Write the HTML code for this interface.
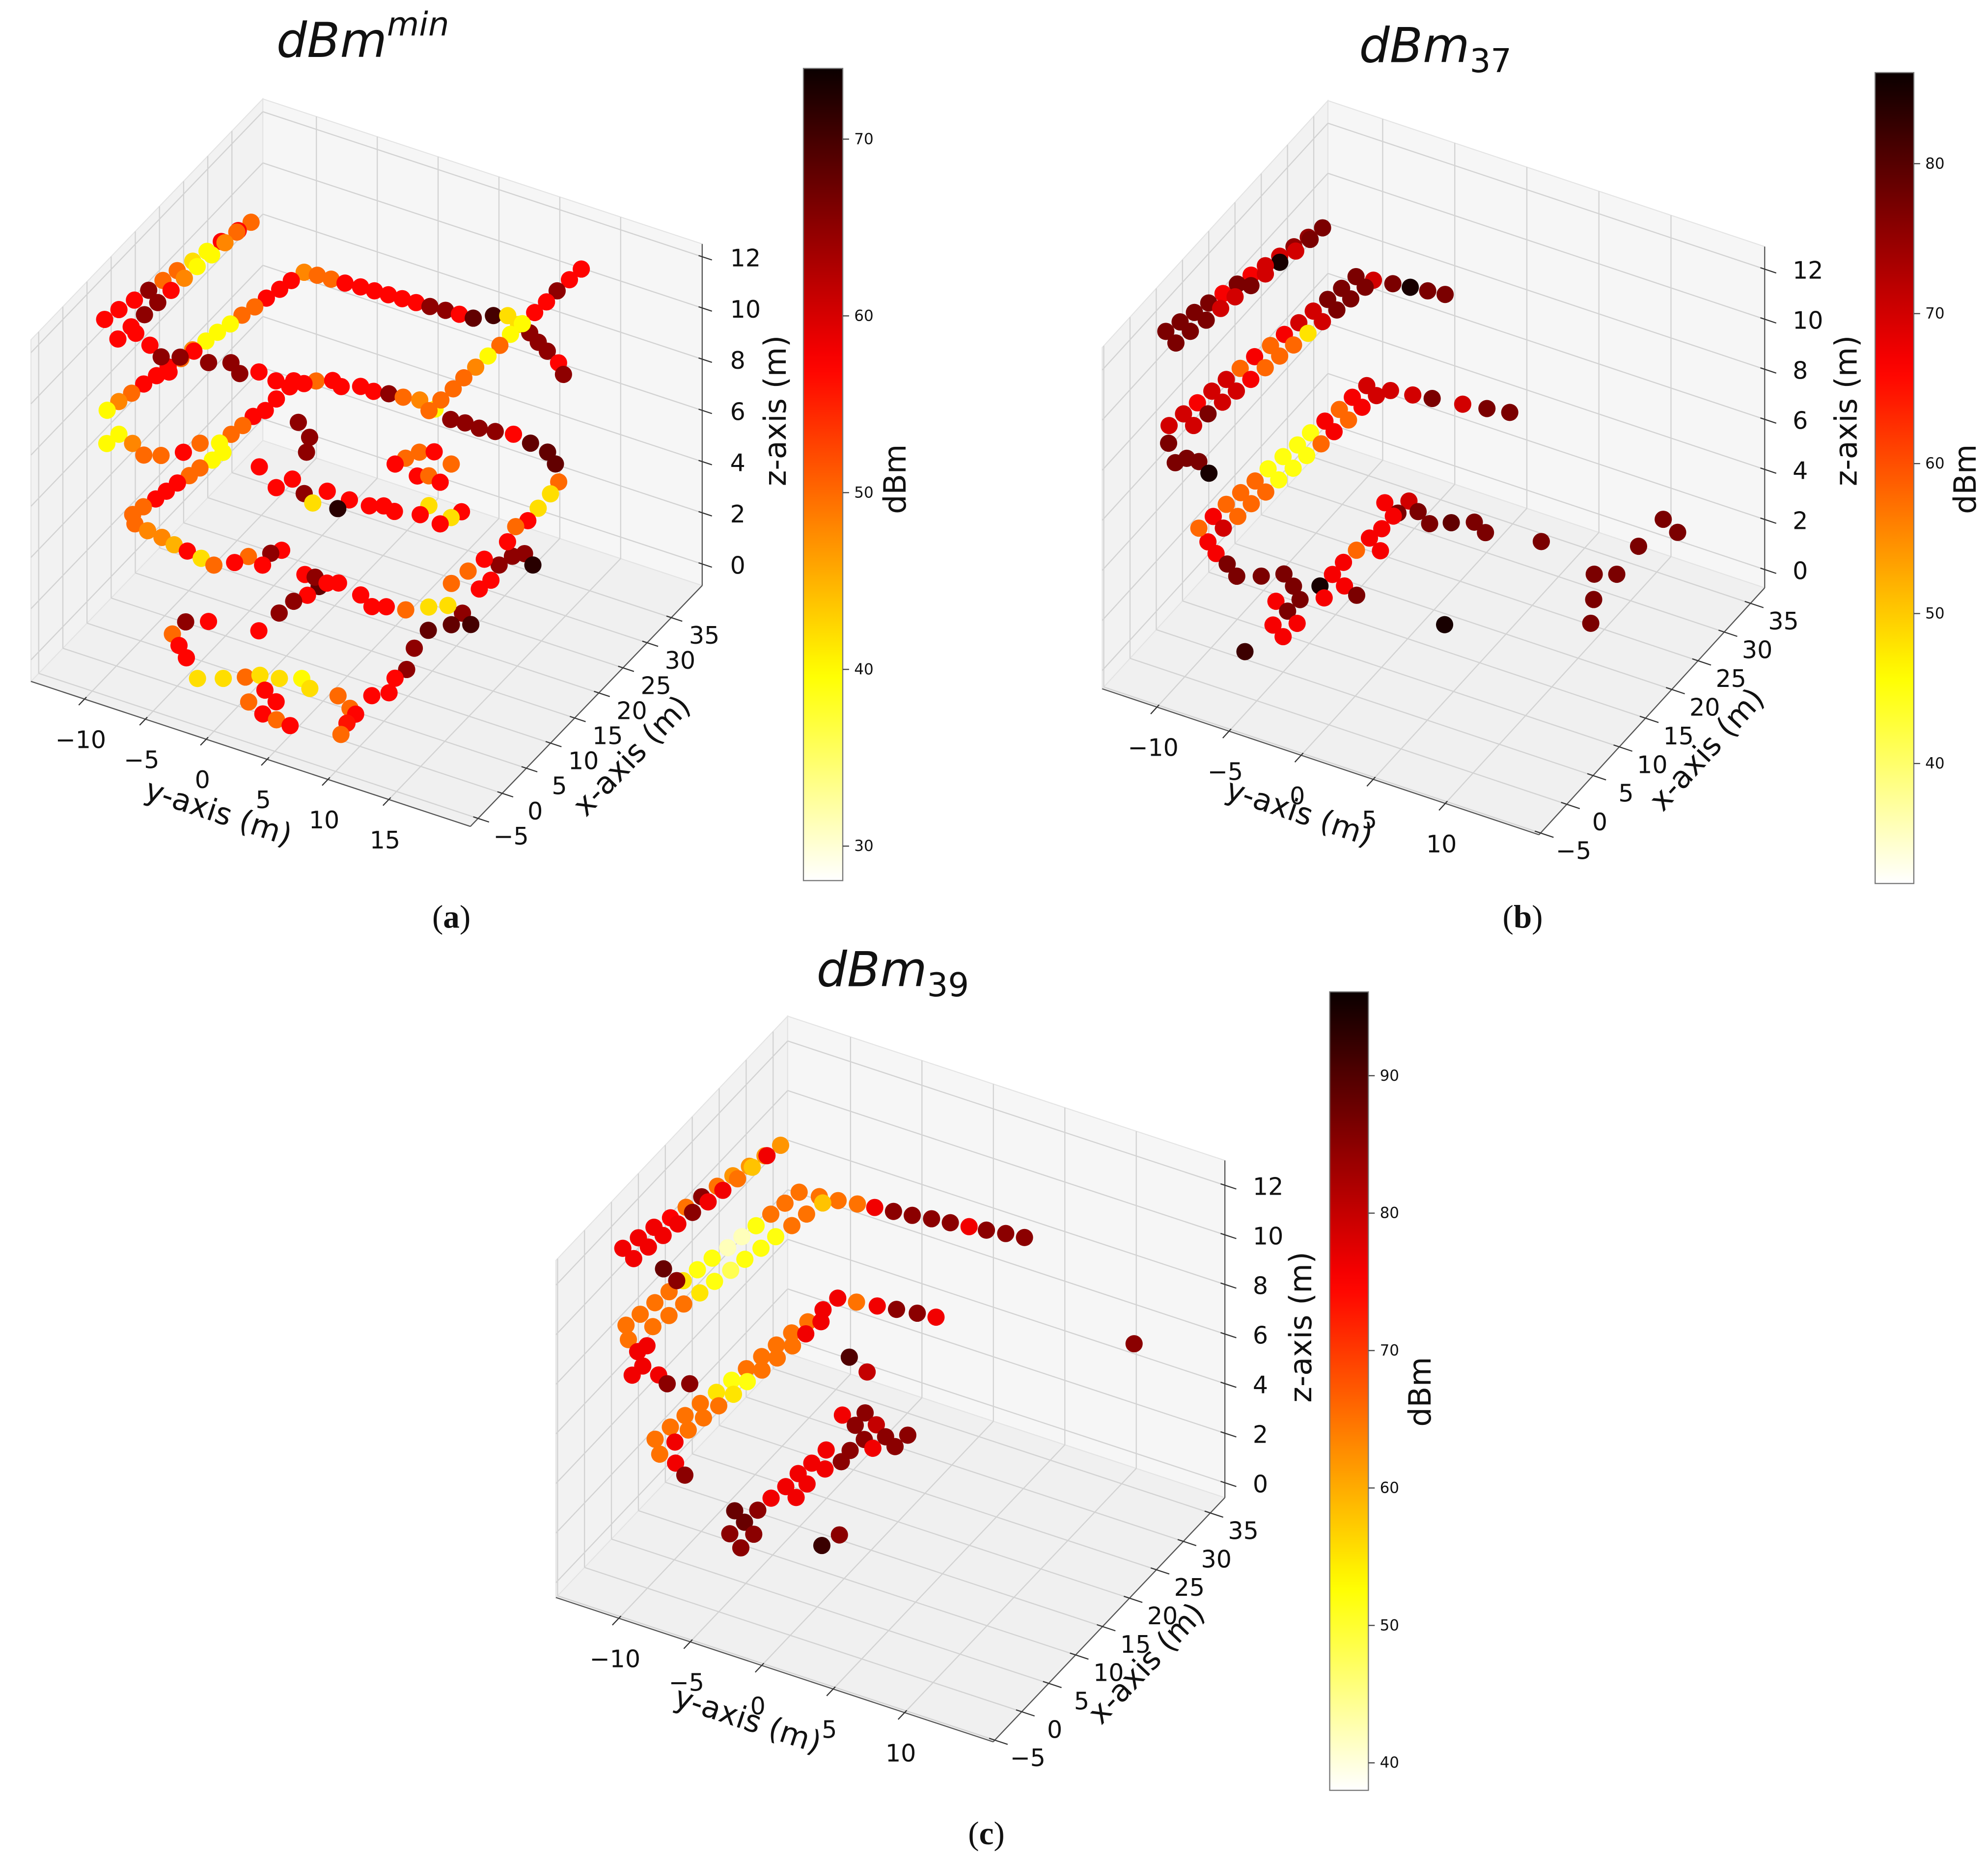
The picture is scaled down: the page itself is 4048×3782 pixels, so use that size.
<!DOCTYPE html>
<html>
<head>
<meta charset="utf-8">
<style>
html,body{margin:0;padding:0;background:#fff;}
svg{display:block;}
text{font-family:"DejaVu Sans","Liberation Sans",sans-serif;fill:#111;}
.cap{font-family:"Liberation Serif",serif;}
</style>
</head>
<body>
<svg id="fig" xmlns="http://www.w3.org/2000/svg" width="4048" height="3782" viewBox="0 0 1568 1465">
<defs id="defs"></defs>
<rect x="0" y="0" width="1568" height="1465" fill="#ffffff"/>

<g id="pa"></g>
<g id="pb"></g>
<g id="pc"></g>

<text x="218" y="45" font-size="38" font-style="italic">dBm<tspan font-size="26" dy="-17">min</tspan></text>
<text x="1072" y="49" font-size="38" font-style="italic">dBm<tspan font-size="26" font-style="normal" dy="8">37</tspan></text>
<text x="644" y="778" font-size="38" font-style="italic">dBm<tspan font-size="26" font-style="normal" dy="8">39</tspan></text>

<text x="172.5" y="640.7" font-size="24" text-anchor="middle" dominant-baseline="central" transform="rotate(18.3 172.5 640.7)">y-axis (m)</text>
<text x="498" y="596" font-size="24" text-anchor="middle" dominant-baseline="central" transform="rotate(-46 498 596)">x-axis (m)</text>
<text x="611.5" y="324" font-size="24" text-anchor="middle" dominant-baseline="central" transform="rotate(-90 611.5 324)">z-axis (m)</text>
<text x="706" y="378" font-size="24" text-anchor="middle" dominant-baseline="central" transform="rotate(-90 706 378)">dBm</text>

<text x="1025" y="640.7" font-size="24" text-anchor="middle" dominant-baseline="central" transform="rotate(18.5 1025 640.7)">y-axis (m)</text>
<text x="1346" y="591" font-size="24" text-anchor="middle" dominant-baseline="central" transform="rotate(-47.6 1346 591)">x-axis (m)</text>
<text x="1456" y="324" font-size="24" text-anchor="middle" dominant-baseline="central" transform="rotate(-90 1456 324)">z-axis (m)</text>
<text x="1550" y="378" font-size="24" text-anchor="middle" dominant-baseline="central" transform="rotate(-90 1550 378)">dBm</text>

<text x="590" y="1356.6" font-size="24" text-anchor="middle" dominant-baseline="central" transform="rotate(18.3 590 1356.6)">y-axis (m)</text>
<text x="904" y="1312" font-size="24" text-anchor="middle" dominant-baseline="central" transform="rotate(-46.5 904 1312)">x-axis (m)</text>
<text x="1026" y="1047" font-size="24" text-anchor="middle" dominant-baseline="central" transform="rotate(-90 1026 1047)">z-axis (m)</text>
<text x="1120" y="1098" font-size="24" text-anchor="middle" dominant-baseline="central" transform="rotate(-90 1120 1098)">dBm</text>

<text class="cap" x="356" y="732" font-size="26" text-anchor="middle">(<tspan font-weight="bold">a</tspan>)</text>
<text class="cap" x="1201" y="732" font-size="26" text-anchor="middle">(<tspan font-weight="bold">b</tspan>)</text>
<text class="cap" x="778" y="1455" font-size="26" text-anchor="middle">(<tspan font-weight="bold">c</tspan>)</text>
</svg>

<script>
// ---------- Panel (a) data: dBm^min ----------
const aX = [
2.1,4.3,6.5,8.7,10.9,13.1,15.3,17.5,19.7,21.9,24.1,
-0.2,2.3,4.8,7.3,9.8,12.3,14.7,17.2,19.7,22.2,
0.1,2.0,3.9,5.9,7.8,9.7,11.6,13.5,15.5,17.4,19.3,21.2,23.1,25.0,27.0,28.9,30.8,
31.0,31.1,31.2,31.4,31.5,31.6,31.7,31.8,31.9,32.1,32.2,32.3,
33.7,34.4,33.6,32.9,31.9,31.0,29.8,28.3,
4.5,6.7,9.0,11.2,13.4,15.7,17.9,20.1,22.3,24.6,26.8,29.0,31.3,33.5,
2.8,4.8,4.1,2.9,3.7,5.3,7.5,8.5,10.4,12.3,14.2,15.7,18.0,20.5,21.7,22.7,23.6,23.1,
24.1,24.0,24.4,24.6,25.0,24.4,23.6,23.8,23.7,24.0,24.5,24.0,23.5,22.1,
1.1,2.8,4.6,6.3,8.1,9.8,11.5,13.3,15.0,
-0.2,-0.6,-0.9,-1.4,-1.7,-2.1,-2.5,
2.8,4.4,3.8,6.0,7.0,4.5,4.6,4.3,18.5,16.2,18.3,16.7,15.7,18.2,16.1,18.0,18.1,18.8,18.5,19.3,21.1,18.9,20.4,21.8,
25.7,27.1,28.7,25.0,25.6,25.2,28.5,29.5,
23.3,21.6,19.2,
-1.1,0.2,1.5,2.5,3.0,4.1,3.0,3.3,2.0,-2.4,-0.4,1.4,5.0,6.3,8.8,10.7,14.3,17.7,19.7,20.7,22.0,26.5,28.4,31.1,33.1,34.1,32.8,
13.5,14.7,18.2,20.9,23.5,27.3,30.0,31.5,33.9,36.7,38.9,
0.5,-0.9,-2.4,3.0,4.2,5.3,9.0,11.5,13.1,15.0,16.5,15.8,14.6,15.3,15.8,
-2.1,-3.2,-3.4,-3.6,0.5,-0.7,
9.3,8.2,7.0,5.1,7.9,9.5,8.5,9.6,8.4,9.6,9.1,10.0
];
const aY = [
-11.8,-11.5,-11.1,-10.8,-10.5,-10.2,-9.8,-9.5,-9.2,-8.8,-8.5,
-9.8,-9.7,-9.6,-9.5,-9.4,-9.3,-9.2,-9.0,-8.9,-8.8,
-10.8,-10.6,-10.3,-10.1,-9.8,-9.6,-9.3,-9.1,-8.8,-8.6,-8.3,-8.1,-7.8,-7.6,-7.3,-7.1,-6.8,
-5.8,-4.7,-3.6,-2.4,-1.3,-0.2,0.9,2.0,3.1,4.3,5.4,6.5,
7.6,8.5,9.7,10.9,12.0,13.1,14.5,15.5,
13.9,14.0,14.1,14.1,14.2,14.3,14.4,14.4,14.5,14.6,14.7,14.7,14.8,14.9,
-11.9,-11.7,-10.3,-8.9,-7.8,-6.6,-6.1,-4.9,-4.7,-4.5,-4.4,-4.0,-4.0,-3.9,-3.2,-2.6,-1.6,-0.7,
0.5,1.6,2.7,3.8,5.0,6.5,8.1,9.2,10.4,11.6,12.9,14.5,16.1,17.3,
-9.1,-8.9,-8.6,-8.4,-8.2,-7.9,-7.7,-7.4,-7.2,
-8.4,-7.2,-5.9,-4.7,-3.5,-2.2,-1.0,
-1.4,-0.9,0.5,0.3,0.8,3.7,4.5,5.6,-5.6,-3.3,-2.8,-1.2,-0.1,0.1,1.8,2.0,3.6,4.5,5.5,7.3,7.3,9.1,9.4,9.7,
2.7,3.0,3.5,4.8,5.5,6.6,6.2,4.4,
-4.3,-2.7,-2.0,
-2.9,-1.3,0.0,0.8,2.2,3.6,4.7,6.9,8.4,9.4,9.1,9.1,9.0,9.9,9.4,9.6,8.8,8.6,9.7,10.9,9.7,9.3,9.5,9.1,9.4,10.0,11.2,
10.3,11.4,10.3,10.6,10.9,11.3,10.9,11.3,11.2,11.1,10.9,
-5.6,-4.5,-3.3,-5.5,-4.1,-0.4,-0.2,0.0,0.5,0.7,1.7,3.8,5.2,6.1,7.5,
1.7,3.3,4.5,5.7,2.0,3.4,
-12.1,-10.5,-9.1,-7.7,-7.9,-7.4,-5.8,-4.4,-3.2,-2.1,-0.5,0.6
];
const aZ = [
12,12,12,12,12,12,12,12,12,12,12,
12,12,12,12,12,12,12,12,12,12,
9,9,9,9,9,9,9,9,9,9,9,9,9,9,9,9,9,
9,9,9,9,9,9,9,9,9,9,9,9,
9,9,9,9,9,9,9,9,
12,12,12,12,12,12,12,12,12,12,12,12,12,12,
7,7,7,7,7,7,7,7,7,7,7,7,7,7,7,7,7,7,
7,7,7,7,7,7,7,7,7,7,7,7,7,7,
5,5,5,5,5,5,5,5,5,
5,5,5,5,5,5,5,
4,4,4,4,4,4,4,4,4,4,4,4,4,4,4,4,4,4,4,4,4,4,4,4,
4,4,4,4,4,4,4,4,
5,5,5,
0,0,0,0,0,0,0,0,0,0,0,0,0,0,0,0,0,0,0,0,0,0,0,0,0,0,0,
2,2,2,2,2,2,2,2,2,2,2,
1,1,1,1,1,1,1,1,1,1,1,1,1,1,1,
0,0,0,0,0,0,
10,10,10,10,10,10,10,10,10,10,10,10
];
const aV = [
57,57,57,65,50,50,42,40,57,50,50,
57,57,65,65,57,48,40,40,48,57,
40,48,50,57,57,57,50,48,40,40,40,50,50,57,57,57,48,
50,50,57,57,57,57,57,57,65,65,57,68,
70,42,42,65,65,65,57,65,
50,50,50,50,48,40,50,40,40,57,57,65,57,57,
40,40,48,50,50,57,50,40,50,50,57,57,57,57,57,50,57,57,
57,57,65,50,48,40,65,65,65,65,57,68,68,68,
50,50,57,57,57,50,50,40,40,
50,48,48,45,57,42,50,
57,50,57,65,57,57,65,57,57,57,57,65,42,57,72,57,57,57,57,57,42,57,42,57,
57,50,50,57,50,57,50,57,
65,65,65,
42,42,50,42,42,40,42,50,50,50,56,57,57,57,57,65,65,68,68,70,65,57,57,65,65,65,72,
42,42,50,50,57,57,50,57,42,42,50,
50,57,57,65,57,57,65,65,57,68,57,57,57,57,50,
50,57,50,57,57,57,
57,57,65,57,65,57,65,65,65,57,57,57
];
const aXTicks = [-5,0,5,10,15,20,25,30,35];
const aYTicks = [-10,-5,0,5,10,15];
const aZTicks = [0,2,4,6,8,10,12];
const aCbTicks = [30,40,50,60,70];
const aRange = [28.05,74.0];

// ---------- Panel (b) data: dBm_37 ----------
const bX = [
2.7,4.6,6.5,8.4,10.3,12.2,14.0,15.9,17.8,19.7,21.6,23.5,
1.6,3.8,6.0,8.2,10.4,12.6,14.8,17.0,19.2,21.4,
0.3,2.5,4.6,6.8,9.0,11.1,13.3,15.5,17.6,19.8,22.0,24.2,26.3,28.5,
28.8,29.2,29.5,29.8,30.1,
1.4,3.6,5.8,7.9,10.1,12.3,14.5,16.6,18.8,21.0,23.2,25.3,27.5,
1.3,3.5,5.7,7.9,10.1,12.3,14.6,16.8,19.0,21.2,23.4,25.6,27.8,
28.2,28.6,29.0,29.6,30.1,30.6,
2.4,4.6,6.9,9.1,11.3,13.5,15.8,18.0,20.2,22.4,24.7,26.9,
4.6,2.3,3.4,3.5,2.4,
9.9,8.7,7.8,6.6,7.7,9.0,7.8,9.0,
11.1,13.2,15.4,17.6,19.4,21.6,23.0,24.3,22.2,23.3,22.2,23.3,24.4,23.5,24.8,16.4,10.1,9.4,7.6,
28.5,33.2,32.1,22.8,23.8,19.4,16.1,9.4,-3.1,5.0,4.2,6.3,1.7,0.6,3.0
];
const bY = [
-12.3,-12.0,-11.7,-11.4,-11.1,-10.8,-10.5,-10.2,-9.9,-9.6,-9.3,-9.0,
-11.2,-11.0,-10.7,-10.5,-10.3,-10.0,-9.8,-9.6,-9.3,-9.1,
-11.2,-11.0,-10.8,-10.6,-10.4,-10.2,-10.0,-9.7,-9.5,-9.3,-9.1,-8.9,-8.7,-8.5,
-7.4,-6.2,-5.1,-4.0,-2.9,
-9.9,-9.7,-9.5,-9.3,-9.1,-8.9,-8.7,-8.5,-8.3,-8.1,-7.9,-7.7,-7.5,
-9.5,-9.3,-9.2,-9.0,-8.8,-8.7,-8.5,-8.3,-8.2,-8.0,-7.8,-7.7,-7.5,
-6.0,-4.6,-3.4,-1.5,0.0,1.4,
-8.2,-8.0,-7.9,-7.7,-7.6,-7.4,-7.3,-7.1,-7.0,-6.8,-6.7,-6.5,
-12.8,-11.5,-11.1,-10.3,-9.2,
-12.0,-11.0,-9.9,-8.8,-7.5,-6.4,-5.3,-3.9,
-3.8,-3.8,-3.7,-3.6,-3.4,-3.4,-4.5,-3.3,-3.3,-2.3,-1.1,0.0,1.2,2.3,5.7,-2.4,-2.6,-1.5,-3.1,
11.1,11.1,12.5,10.1,11.3,11.3,12.3,4.6,-4.7,-5.5,-4.4,-4.3,-4.5,-3.4,-3.3
];
const bZ = [
12,12,12,12,12,12,12,12,12,12,12,12,
12,12,12,12,12,12,12,12,12,12,
9,9,9,9,9,9,9,9,9,9,9,9,9,9,
9,9,9,9,9,
9,9,9,9,9,9,9,9,9,9,9,9,9,
5,5,5,5,5,5,5,5,5,5,5,5,5,
5,5,5,5,5,5,
5,5,5,5,5,5,5,5,5,5,5,5,
7,7,7,7,7,
2,2,2,2,2,2,2,2,
2,2,2,2,2,2,2,2,2,2,2,2,2,2,2,2,2,2,2,
2,2,2,2,2,2,2,2,2,2,2,2,2,2,2
];
const bV = [
77,77,77,77,67,77,67,70,70,75,75,77,
77,77,77,70,70,77,70,85,70,77,
70,70,67,70,70,58,67,58,67,70,70,77,77,77,
70,77,85,77,77,
70,77,70,70,67,58,58,58,48,70,77,77,77,
58,67,58,58,58,45,45,45,45,67,58,67,70,
70,70,77,70,77,77,
70,58,58,58,45,45,45,58,67,58,67,70,
77,77,77,77,85,
67,67,77,77,77,77,77,85,
67,67,58,67,67,67,67,70,77,77,77,79,77,77,77,67,67,77,67,
77,77,77,77,77,77,77,85,82,67,77,77,67,67,67
];
const bXTicks = [-5,0,5,10,15,20,25,30,35];
const bYTicks = [-10,-5,0,5,10];
const bZTicks = [0,2,4,6,8,10,12];
const bCbTicks = [40,50,60,70,80];
const bRange = [32.0,86.07];

// ---------- Panel (c) data: dBm_39 ----------
const cX = [
2.6,4.7,6.8,8.8,10.9,13.0,15.1,17.2,19.2,21.3,23.4,
1.7,3.9,6.1,8.3,10.5,12.6,14.8,17.0,19.2,21.4,
2.4,4.5,6.7,8.8,10.9,13.0,15.2,17.3,19.4,21.5,23.7,25.8,27.9,
28.2,28.5,28.9,29.2,29.5,29.8,30.2,30.5,30.8,31.1,31.5,31.8,
3.4,5.6,7.8,10.0,12.2,14.4,16.5,18.7,20.9,23.1,25.3,27.5,
3.9,2.7,3.9,-0.7,1.0,0.5,-0.3,0.7,
8.3,7.3,
1.7,4.0,6.2,8.5,10.7,13.0,15.2,17.5,19.7,22.0,24.2,26.5,28.7,
29.0,29.4,29.8,30.2,30.5,
-0.1,2.2,4.4,6.7,9.0,11.2,13.5,15.7,18.0,20.3,22.5,24.8,
-0.6,-1.8,21.3,20.1,35.7,
5.6,6.7,8.9,11.1,13.4,15.4,17.8,16.9,18.8,20.9,20.1,22.2,21.3,23.4,23.2,22.4,24.5,23.4,15.2,12.4,10.1,4.5,3.3,2.3,0.9,4.8,7.0
];
const cY = [
-12.7,-12.4,-12.1,-11.7,-11.4,-11.1,-10.8,-10.5,-10.1,-9.8,-9.5,
-11.6,-11.4,-11.2,-11.0,-10.8,-10.5,-10.3,-10.1,-9.9,-9.7,
-12.4,-12.2,-12.0,-11.8,-11.6,-11.4,-11.2,-10.9,-10.7,-10.5,-10.3,-10.1,-9.9,
-8.6,-7.4,-6.2,-5.1,-3.9,-2.7,-1.5,-0.3,0.9,2.0,3.2,4.4,
-10.9,-10.6,-10.4,-10.1,-9.9,-9.6,-9.4,-9.1,-8.9,-8.6,-8.4,-8.1,
-12.8,-11.7,-11.5,-10.8,-10.7,-9.4,-8.5,-7.3,
-12.0,-10.7,
-10.1,-9.9,-9.7,-9.5,-9.2,-9.0,-8.8,-8.6,-8.4,-8.2,-7.9,-7.7,-7.5,
-6.3,-5.0,-3.8,-2.5,-1.3,
-9.1,-8.9,-8.8,-8.6,-8.4,-8.2,-8.1,-7.9,-7.7,-7.5,-7.4,-7.2,
-7.8,-6.7,-3.9,-2.2,10.6,
-6.0,-4.8,-4.7,-4.5,-4.5,-4.3,-4.2,-2.8,-2.9,-2.7,-1.8,-1.7,-0.7,-0.6,-5.1,-3.9,-4.0,-2.8,-3.3,-3.5,-3.4,-4.9,-3.8,-5.1,-3.8,0.4,0.8
];
const cZ = [
12,12,12,12,12,12,12,12,12,12,12,
12,12,12,12,12,12,12,12,12,12,
9,9,9,9,9,9,9,9,9,9,9,9,9,
9,9,9,9,9,9,9,9,9,9,9,9,
9,9,9,9,9,9,9,9,9,9,9,9,
8,8,8,8,8,8,8,8,
10,10,
5,5,5,5,5,5,5,5,5,5,5,5,5,
5,5,5,5,5,
5,5,5,5,5,5,5,5,5,5,5,5,
5,5,5,5,5,
2,2,2,2,2,2,2,2,2,2,2,2,2,2,2,2,2,2,2,2,2,2,2,2,2,2,2
];
const cV = [
76,76,76,75,65,85,65,62,62,62,62,
76,76,76,76,85,76,76,65,58,76,
65,65,65,65,55,52,52,42,42,52,65,65,65,
65,65,65,76,85,85,85,85,76,85,85,85,
65,65,65,55,52,48,52,52,52,65,65,58,
65,76,76,76,76,76,85,85,
88,85,
65,65,65,65,55,52,65,65,65,65,65,76,76,
65,76,85,85,76,
65,76,65,65,65,55,52,65,65,65,76,76,
76,85,90,80,85,
88,85,76,76,76,76,76,85,85,85,76,85,85,85,76,85,85,80,76,76,76,88,85,85,85,92,85
];
const cXTicks = [-5,0,5,10,15,20,25,30,35];
const cYTicks = [-10,-5,0,5,10];
const cZTicks = [0,2,4,6,8,10,12];
const cCbTicks = [40,50,60,70,80,90];
const cRange = [38.0,96.1];

// ---------- Layout (projection + colorbar placement) ----------
const NS = 'http://www.w3.org/2000/svg';
const cfgA = {id:'pa', key:'a', O:[187.8,540.1], ex:[3.81,-3.96], ey:[9.6,3.17], ez:[0,-20.2],
  X:[-6.6,41.4], Y:[-14.4,21.7], Z:[-0.84,12.5], cb:{x:633.7,y0:54,y1:694.7,w:31}};
const cfgB = {id:'pb', key:'b', O:[1048.2,557.4], ex:[4.14,-4.53], ey:[11.37,3.80], ez:[0,-19.75],
  X:[-5.3,37.7], Y:[-13.8,16.5], Z:[-0.73,12.9], cb:{x:1479,y0:57.3,y1:697,w:30.5}};
const cfgC = {id:'pc', key:'c', O:[623.3,1278.4], ex:[4.25,-4.48], ey:[11.27,3.72], ez:[0,-19.56],
  X:[-5.3,37.7], Y:[-14.4,16.2], Z:[-0.6,13.0], cb:{x:1048.8,y0:782.5,y1:1412.4,w:30.5}};

function clamp(v){return Math.max(0,Math.min(1,v));}
function hotR(t){
  const s = 1 - clamp(t);
  const r = clamp(0.0416 + (1-0.0416)*s/0.365);
  const g = clamp((s-0.365)/0.381);
  const b = clamp((s-0.746)/0.254);
  return 'rgb(' + Math.round(r*255) + ',' + Math.round(g*255) + ',' + Math.round(b*255) + ')';
}
function P(c,x,y,z){
  return [c.O[0]+x*c.ex[0]+y*c.ey[0]+z*c.ez[0], c.O[1]+x*c.ex[1]+y*c.ey[1]+z*c.ez[1]];
}
function mk(tag,parent){const e=document.createElementNS(NS,tag); parent.appendChild(e); return e;}
function seg(parent,p,q,stroke,w){
  const e=mk('line',parent);
  e.setAttribute('x1',p[0].toFixed(2)); e.setAttribute('y1',p[1].toFixed(2));
  e.setAttribute('x2',q[0].toFixed(2)); e.setAttribute('y2',q[1].toFixed(2));
  e.setAttribute('stroke',stroke); e.setAttribute('stroke-width',w);
  return e;
}
function poly(parent,c,pts,fill){
  const e=mk('polygon',parent);
  e.setAttribute('points',pts.map(p=>P(c,p[0],p[1],p[2]).map(v=>v.toFixed(2)).join(',')).join(' '));
  e.setAttribute('fill',fill); e.setAttribute('stroke','#e3e3e3'); e.setAttribute('stroke-width','0.8');
  return e;
}
function txt(parent,x,y,s,size,anchor){
  const e=mk('text',parent);
  e.setAttribute('x',x.toFixed(2)); e.setAttribute('y',y.toFixed(2));
  e.setAttribute('font-size',size); e.setAttribute('text-anchor',anchor);
  e.setAttribute('dominant-baseline','central');
  e.textContent=s;
  return e;
}

function drawPlot(c,XS,YS,ZS,VS,xt,yt,zt,cbt,rng){
  const root=document.getElementById(c.id);
  const [X0,X1]=c.X, [Y0,Y1]=c.Y, [Z0,Z1]=c.Z;
  // panes
  const pf=poly(root,c,[[X0,Y0,Z0],[X1,Y0,Z0],[X1,Y1,Z0],[X0,Y1,Z0]],'#f0f0f0');
  
  
  const pl=poly(root,c,[[X0,Y0,Z0],[X1,Y0,Z0],[X1,Y0,Z1],[X0,Y0,Z1]],'#f2f2f2');
  
  
  const pr=poly(root,c,[[X1,Y0,Z0],[X1,Y1,Z0],[X1,Y1,Z1],[X1,Y0,Z1]],'#f6f6f6');
  
  
  // grid
  const grid=mk('g',root);
  
  
  const gc='#d2d2d2', gw='0.9';
  xt.forEach(v=>{ if(v<X0||v>X1) return;
    const g1=seg(grid,P(c,v,Y0,Z0),P(c,v,Y1,Z0),gc,gw);
    
    const g2=seg(grid,P(c,v,Y0,Z0),P(c,v,Y0,Z1),gc,gw);
    
  });
  yt.forEach(v=>{ if(v<Y0||v>Y1) return;
    const g1=seg(grid,P(c,X0,v,Z0),P(c,X1,v,Z0),gc,gw);
    
    const g2=seg(grid,P(c,X1,v,Z0),P(c,X1,v,Z1),gc,gw);
    
  });
  zt.forEach(v=>{ if(v<Z0||v>Z1) return;
    const g1=seg(grid,P(c,X0,Y0,v),P(c,X1,Y0,v),gc,gw);
    
    const g2=seg(grid,P(c,X1,Y0,v),P(c,X1,Y1,v),gc,gw);
    
  });
  // axes
  const ax=mk('g',root);
  
  
  const xa=seg(ax,P(c,X0,Y1,Z0),P(c,X1,Y1,Z0),'#555','0.9');
  
  const ya=seg(ax,P(c,X0,Y0,Z0),P(c,X0,Y1,Z0),'#555','0.9');
  
  const za=seg(ax,P(c,X1,Y1,Z0),P(c,X1,Y1,Z1),'#555','0.9');
  
  xt.forEach(v=>{
    const tk=seg(ax,P(c,v,Y1-0.4,Z0),P(c,v,Y1+0.9,Z0),'#333','0.9');
    
    const p=P(c,v,Y1,Z0);
    const t=txt(ax,p[0]+26,p[1]+14,String(v).replace('-','\u2212'),19,'middle');
    
  });
  yt.forEach(v=>{
    const tk=seg(ax,P(c,X0+0.4,v,Z0),P(c,X0-1.2,v,Z0),'#333','0.9');
    
    const p=P(c,X0,v,Z0);
    const t=txt(ax,p[0]-3,p[1]+32,String(v).replace('-','\u2212'),19,'middle');
    
  });
  zt.forEach(v=>{
    const tk=seg(ax,P(c,X1,Y1-0.3,v),P(c,X1,Y1+0.8,v),'#333','0.9');
    
    const p=P(c,X1,Y1,v);
    const t=txt(ax,p[0]+22,p[1]+1,String(v),19,'start');
    
  });
  // points, drawn far-to-near
  const pts=mk('g',root);
  
  
  const idx=XS.map((_,i)=>i);
  const depth=i=>(XS[i]-X0)/(X1-X0)-(YS[i]-Y0)/(Y1-Y0)-0.5*(ZS[i]-Z0)/(Z1-Z0);
  idx.sort((i,j)=>depth(j)-depth(i));
  idx.forEach(i=>{
    const p=P(c,XS[i],YS[i],ZS[i]);
    const d=mk('circle',pts);
    d.setAttribute('cx',p[0].toFixed(2)); d.setAttribute('cy',p[1].toFixed(2));
    d.setAttribute('r','6.8');
    d.setAttribute('fill',hotR((VS[i]-rng[0])/(rng[1]-rng[0])));
    
    
  });
  // colorbar
  const defs=document.getElementById('defs');
  const lg=mk('linearGradient',defs);
  lg.setAttribute('id','grad-'+c.key);
  lg.setAttribute('x1','0'); lg.setAttribute('y1','1'); lg.setAttribute('x2','0'); lg.setAttribute('y2','0');
  for(let k=0;k<=40;k++){
    const st=mk('stop',lg);
    st.setAttribute('offset',(k/40).toFixed(3));
    st.setAttribute('stop-color',hotR(k/40));
  }
  const cbg=mk('g',root);
  
  
  const cb=c.cb;
  const r=mk('rect',cbg);
  r.setAttribute('x',cb.x); r.setAttribute('y',cb.y0); r.setAttribute('width',cb.w); r.setAttribute('height',(cb.y1-cb.y0).toFixed(2));
  r.setAttribute('fill','url(#grad-'+c.key+')'); r.setAttribute('stroke','#777'); r.setAttribute('stroke-width','0.9');
  
  cbt.forEach(v=>{
    const y=cb.y1-(v-rng[0])/(rng[1]-rng[0])*(cb.y1-cb.y0);
    const tk=seg(cbg,[cb.x+cb.w,y],[cb.x+cb.w+5,y],'#444','0.9');
    
    const t=txt(cbg,cb.x+cb.w+9,y,String(v),12,'start');
    t.setAttribute('fill','#333');
    
  });
}

drawPlot(cfgA,aX,aY,aZ,aV,aXTicks,aYTicks,aZTicks,aCbTicks,aRange);
drawPlot(cfgB,bX,bY,bZ,bV,bXTicks,bYTicks,bZTicks,bCbTicks,bRange);
drawPlot(cfgC,cX,cY,cZ,cV,cXTicks,cYTicks,cZTicks,cCbTicks,cRange);
</script>
</body>
</html>
